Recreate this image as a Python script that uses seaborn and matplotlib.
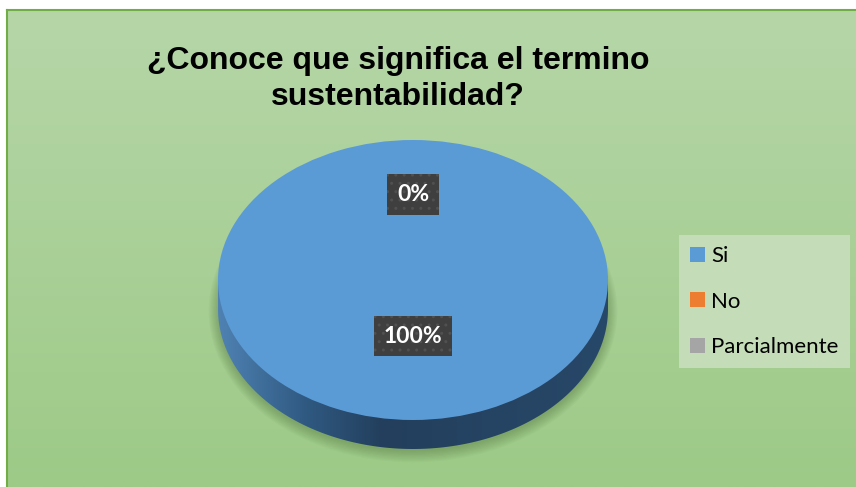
import numpy as np
import matplotlib
matplotlib.use('Agg')
import matplotlib.pyplot as plt
import seaborn as sns
from matplotlib.patches import Polygon, Ellipse
from matplotlib.colors import LinearSegmentedColormap

# ---- data ----
categories = ['Si', 'No', 'Parcialmente']
values = [100, 0, 0]
title = '¿Conoce que significa el termino\nsustentabilidad?'

sns.set_theme(style='white')
plt.rcParams['font.family'] = ['Liberation Sans', 'DejaVu Sans']
plt.rcParams['hatch.linewidth'] = 1.0
colors = ['#5b9bd5', '#ed7d31', '#a5a5a5']

W, H = 856, 487
fig = plt.figure(figsize=(W / 100, H / 100), dpi=100)
fig.patch.set_facecolor('white')

# ---- chart area background ----
bg = fig.add_axes([7 / W, 0, 1 - 7 / W, 1 - 10 / H])
grad = np.linspace(0, 1, 256).reshape(-1, 1)
cmap_bg = LinearSegmentedColormap.from_list('bg', ['#b6d6a8', '#9dca87'])
bg.imshow(grad, aspect='auto', cmap=cmap_bg, extent=[0, 1, 0, 1], origin='upper')
bg.set_xticks([]); bg.set_yticks([])
for s in ['right', 'bottom']:
    bg.spines[s].set_visible(False)
for s in ['left', 'top']:
    bg.spines[s].set_color('#70ad47')
    bg.spines[s].set_linewidth(1.5)

# ---- pie axes (elliptical, 3D look) ----
rx, ry, depth = 195, 140, 29
cx, cy = 413, 280
d = depth / ry
x0, x1 = -1.1, 1.1
y0, y1 = -1 - d - 0.15, 1.05
ax = fig.add_axes([(cx + x0 * rx) / W, (H - cy + y0 * ry) / H,
                   (x1 - x0) * rx / W, (y1 - y0) * ry / H])
ax.patch.set_alpha(0)

# soft shadow
for k in np.linspace(0.0, 0.08, 10):
    ax.add_patch(Ellipse((0, -d - 0.015), 2 * (1 + k * 0.6), 2 * (1 + k),
                         facecolor='#3d5a2a', edgecolor='none', alpha=0.035, zorder=0.5))

# side of the disc
t = np.linspace(np.pi, 2 * np.pi, 200)
side_pts = np.column_stack([np.cos(t), np.sin(t) - d])
side_pts = np.vstack([side_pts, [[1, 0], [-1, 0]]])
side_poly = Polygon(side_pts, closed=True, facecolor='none', edgecolor='none')
ax.add_patch(side_poly)
side_cmap = LinearSegmentedColormap.from_list(
    'side', [(0, '#4f82b3'), (0.22, '#305a82'), (0.42, '#233f5d'), (1, '#284869')])
im = ax.imshow(np.linspace(0, 1, 256).reshape(1, -1), cmap=side_cmap,
               extent=[-1, 1, -1 - d, 0], aspect='auto', zorder=1)
im.set_clip_path(side_poly)

# top face
wedges, texts, autotexts = ax.pie(
    values, colors=colors, startangle=90, counterclock=False, radius=1,
    autopct='%1.0f%%', pctdistance=0.5, wedgeprops=dict(linewidth=0),
    textprops=dict(color='white', fontsize=16.5, fontweight='bold',
                   family=['Lato', 'DejaVu Sans']))
for w in wedges:
    w.set_zorder(3)
for w, v, at in zip(wedges, values, autotexts):
    ang = np.deg2rad((w.theta1 + w.theta2) / 2)
    r = 0.4 if v > 0 else 0.61
    at.set_position((r * np.cos(ang), r * np.sin(ang)))
    at.set_zorder(5)
    at.set_bbox(dict(boxstyle='square,pad=0.42', facecolor='#3f3f3f',
                     edgecolor='#505050', linewidth=0, hatch='..'))

ax.set_xlim(x0, x1)
ax.set_ylim(y0, y1)
ax.set_aspect('auto')
ax.set_xticks([]); ax.set_yticks([])
for s in ax.spines.values():
    s.set_visible(False)

# ---- title ----
fig.text(398 / W, 1 - 79 / H, title, ha='center', va='center', fontsize=23,
         fontweight='bold', linespacing=1.3, color='black')

# ---- legend ----
leg = fig.legend(wedges, categories, loc='upper left',
                 bbox_to_anchor=(679 / W, 1 - 235 / H), bbox_transform=fig.transFigure,
                 frameon=True, fancybox=False, facecolor='#c5dcb8', edgecolor='none',
                 framealpha=1, prop={'family': ['Lato', 'DejaVu Sans'], 'size': 16},
                 handlelength=0.65, handleheight=0.65, labelspacing=1.15,
                 borderpad=0.5, handletextpad=0.3, borderaxespad=0)
for txt in leg.get_texts():
    txt.set_color('black')

fig.savefig('out.png', dpi=100, facecolor=fig.get_facecolor())
